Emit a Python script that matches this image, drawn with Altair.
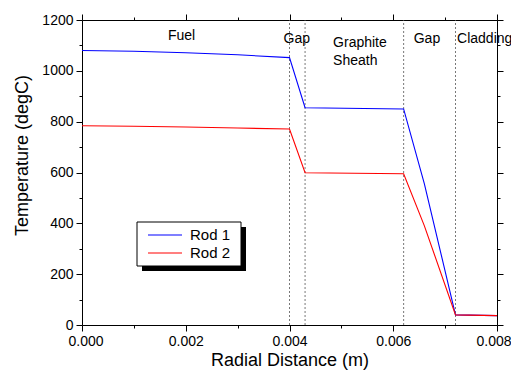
import altair as alt
import pandas as pd

# ---- data ----
radius = [0.0, 0.001, 0.002, 0.003, 0.004, 0.0043, 0.0062, 0.0066, 0.0072, 0.008]
rod1 = [1080, 1077, 1071, 1063, 1052, 855, 850, 555, 40, 37]
rod2 = [784, 782, 779, 775, 771, 599, 595, 390, 40, 37]
series_names = ["Rod 1", "Rod 2"]
series_colors = ["#0000ff", "#ff0000"]

boundaries = [0.004, 0.0043, 0.0062, 0.0072]
region_center_labels = ["Fuel", "Gap", "Gap"]
region_center_x = [0.00192, 0.00414, 0.00665]
region_center_y = [1138, 1125, 1125]
region_left_labels = ["Graphite\nSheath", "Cladding"]
region_left_x = [0.00484, 0.00723]
region_left_y = [1110, 1125]

x_major = [0.0, 0.002, 0.004, 0.006, 0.008]
x_minor = [0.001, 0.003, 0.005, 0.007]
y_major = [0, 200, 400, 600, 800, 1000, 1200]
y_minor = [100, 300, 500, 700, 900, 1100]

FONT = "Liberation Sans"
W, H = 415, 305

df1 = pd.DataFrame({"x": radius, "t": rod1})
df2 = pd.DataFrame({"x": radius, "t": rod2})
dfb = pd.DataFrame({"x": boundaries})
dfc = pd.DataFrame({"x": region_center_x, "y": region_center_y, "label": region_center_labels})
dfl = pd.DataFrame({"x": region_left_x, "y": region_left_y, "label": region_left_labels})
one = pd.DataFrame({"a": [0]})

xs = alt.Scale(domain=[0, 0.008], nice=False, zero=False)
ys = alt.Scale(domain=[0, 1200], nice=False, zero=False)

common = dict(domainColor="black", tickColor="black", grid=False, labelFont=FONT,
              labelColor="black", titleFont=FONT, titleColor="black",
              titleFontWeight="normal", domainWidth=1, tickWidth=1)

ax_bottom = alt.Axis(orient="bottom", values=x_major, format=".3f", tickSize=6,
                     labelFontSize=14, labelPadding=3, labelFlush=True, labelFlushOffset=14,
                     labelOverlap=False,
                     title="Radial Distance (m)", titleFontSize=18, titleY=35,
                     titleBaseline="middle", **common)
ax_top = alt.Axis(orient="top", values=x_major, tickSize=6, labels=False, title=None, **common)
ax_bottom_minor = alt.Axis(orient="bottom", values=x_minor, tickSize=3, labels=False,
                           title=None, domain=False, **common)
ax_top_minor = alt.Axis(orient="top", values=x_minor, tickSize=3, labels=False,
                        title=None, domain=False, **common)

ay_left = alt.Axis(orient="left", values=y_major, format="d", tickSize=6, labelFontSize=14,
                   labelPadding=3, labelOverlap=False, labelFlush=False,
                   title="Temperature (degC)", titleFontSize=18, titleX=-60, titleY=135,
                   titleBaseline="middle", titleAlign="center", **common)
ay_right = alt.Axis(orient="right", values=y_major, tickSize=6, labels=False, title=None, **common)
ay_left_minor = alt.Axis(orient="left", values=y_minor, tickSize=3, labels=False,
                         title=None, domain=False, **common)
ay_right_minor = alt.Axis(orient="right", values=y_minor, tickSize=3, labels=False,
                          title=None, domain=False, **common)

vlines = alt.Chart(dfb).mark_rule(color="#555555", strokeDash=[2, 2], strokeWidth=0.8).encode(
    x=alt.X("x:Q", scale=xs, axis=None),
    y=alt.YDatum(0, scale=ys, axis=None),
    y2=alt.Y2Datum(1200),
)

line1 = alt.Chart(df1).mark_line(color=series_colors[0], strokeWidth=1.1).encode(
    x=alt.X("x:Q", scale=xs, axis=ax_bottom),
    y=alt.Y("t:Q", scale=ys, axis=ay_left),
)
line2 = alt.Chart(df2).mark_line(color=series_colors[1], strokeWidth=1.1).encode(
    x=alt.X("x:Q", scale=xs, axis=ax_top),
    y=alt.Y("t:Q", scale=ys, axis=ay_right),
)
minor1 = alt.Chart(df1).mark_line(opacity=0).encode(
    x=alt.X("x:Q", scale=xs, axis=ax_bottom_minor),
    y=alt.Y("t:Q", scale=ys, axis=ay_left_minor),
)
minor2 = alt.Chart(df1).mark_line(opacity=0).encode(
    x=alt.X("x:Q", scale=xs, axis=ax_top_minor),
    y=alt.Y("t:Q", scale=ys, axis=ay_right_minor),
)

text_c = alt.Chart(dfc).mark_text(font=FONT, fontSize=14, color="black", align="center",
                                   baseline="middle", lineBreak="\n", lineHeight=18).encode(
    x=alt.X("x:Q", scale=xs, axis=None),
    y=alt.Y("y:Q", scale=ys, axis=None),
    text="label:N",
)
text_l = alt.Chart(dfl).mark_text(font=FONT, fontSize=14, color="black", align="left",
                                   baseline="middle", lineBreak="\n", lineHeight=18).encode(
    x=alt.X("x:Q", scale=xs, axis=None),
    y=alt.Y("y:Q", scale=ys, axis=None),
    text="label:N",
)

# ---- manual legend box with drop shadow ----
shadow = alt.Chart(one).mark_rect(color="black").encode(
    x=alt.value(60), x2=alt.value(164), y=alt.value(207), y2=alt.value(251))
box = alt.Chart(one).mark_rect(fill="white", stroke="black", strokeWidth=1).encode(
    x=alt.value(55), x2=alt.value(159), y=alt.value(202), y2=alt.value(246))
legend_layers = []
for i, (name, col) in enumerate(zip(series_names, series_colors)):
    yy = 215 + i * 18
    legend_layers.append(alt.Chart(one).mark_rule(color=col, strokeWidth=1.1).encode(
        x=alt.value(66), x2=alt.value(100), y=alt.value(yy)))
    legend_layers.append(alt.Chart(one).mark_text(font=FONT, fontSize=15, color="black",
                                                  align="left", baseline="middle", text=name).encode(
        x=alt.value(108), y=alt.value(yy)))

chart = alt.layer(
    vlines, text_c, text_l, minor1, minor2, line1, line2, shadow, box, *legend_layers
).resolve_axis(x="independent", y="independent").properties(
    width=W, height=H,
    autosize=alt.AutoSizeParams(type="none"),
    padding={"left": 74, "top": 12, "right": 14, "bottom": 50},
).configure_view(stroke=None).configure(background="white")

chart.save("out.html", embed_options={"renderer": "svg", "actions": False})
